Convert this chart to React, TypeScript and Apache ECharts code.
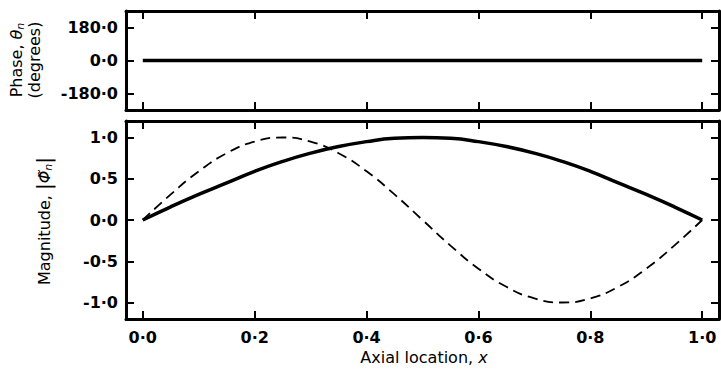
import React, { useEffect, useRef } from "react";
import * as echarts from "echarts";

const xPositions = [0, 0.05, 0.1, 0.15, 0.2, 0.25, 0.3, 0.35, 0.4, 0.45, 0.5, 0.55, 0.6, 0.65, 0.7, 0.75, 0.8, 0.85, 0.9, 0.95, 1.0];
const magnitudeSolid = [0, 0.16, 0.31, 0.45, 0.59, 0.71, 0.81, 0.89, 0.95, 0.99, 1.0, 0.99, 0.95, 0.89, 0.81, 0.71, 0.59, 0.45, 0.31, 0.16, 0];
const magnitudeDashed = [0, 0.31, 0.59, 0.81, 0.95, 1.0, 0.95, 0.81, 0.59, 0.31, 0, -0.31, -0.59, -0.81, -0.95, -1.0, -0.95, -0.81, -0.59, -0.31, 0];
const phaseX = [0, 1.0];
const phaseValues = [0, 0];
const xTicks = [0, 0.2, 0.4, 0.6, 0.8, 1.0];
const phaseTicks = [-180, 0, 180];
const magTicks = [-1, -0.5, 0, 0.5, 1];

const FONT = "DejaVu Sans";
const fmt = (v: number) => v.toFixed(1).replace(".", "·");

export default function App() {
  const ref = useRef<HTMLDivElement>(null);
  useEffect(() => {
    if (!ref.current) return;
    const chart = echarts.init(ref.current, null, { renderer: "svg" });
    const axisLine = { show: true, onZero: false, lineStyle: { color: "#000", width: 3 } };
    const mkX = (grid: number, pos: string, labels: boolean) => ({
      type: "value",
      gridIndex: grid,
      position: pos,
      min: -0.03,
      max: 1.03,
      axisLine,
      axisTick: { show: true, inside: true, length: 8, customValues: xTicks, lineStyle: { color: "#000", width: 2 } },
      axisLabel: labels
        ? { show: true, customValues: xTicks, formatter: fmt, fontFamily: FONT, fontWeight: "bold", fontSize: 16, color: "#000", margin: 10 }
        : { show: false },
      splitLine: { show: false },
    });
    const mkY = (grid: number, pos: string, labels: boolean, min: number, max: number, ticks: number[]) => ({
      type: "value",
      gridIndex: grid,
      position: pos,
      min,
      max,
      axisLine,
      axisTick: { show: true, inside: true, length: 8, customValues: ticks, lineStyle: { color: "#000", width: 2 } },
      axisLabel: labels
        ? { show: true, customValues: ticks, formatter: fmt, fontFamily: FONT, fontWeight: "bold", fontSize: 16, color: "#000", margin: 8 }
        : { show: false },
      splitLine: { show: false },
    });
    chart.setOption({
      animation: false,
      backgroundColor: "#fff",
      grid: [
        { left: 126, top: 11, width: 593, height: 99 },
        { left: 126, top: 121, width: 593, height: 198 },
      ],
      xAxis: [mkX(0, "bottom", false), mkX(0, "top", false), mkX(1, "bottom", true), mkX(1, "top", false)],
      yAxis: [
        mkY(0, "left", true, -270, 270, phaseTicks),
        mkY(0, "right", false, -270, 270, phaseTicks),
        mkY(1, "left", true, -1.2, 1.2, magTicks),
        mkY(1, "right", false, -1.2, 1.2, magTicks),
      ],
      series: [
        {
          type: "line",
          xAxisIndex: 0,
          yAxisIndex: 0,
          data: phaseX.map((x, i) => [x, phaseValues[i]]),
          showSymbol: false,
          lineStyle: { color: "#000", width: 3.5 },
        },
        {
          type: "line",
          xAxisIndex: 2,
          yAxisIndex: 2,
          data: xPositions.map((x, i) => [x, magnitudeSolid[i]]),
          smooth: true,
          showSymbol: false,
          lineStyle: { color: "#000", width: 3.5 },
        },
        {
          type: "line",
          xAxisIndex: 2,
          yAxisIndex: 2,
          data: xPositions.map((x, i) => [x, magnitudeDashed[i]]),
          smooth: true,
          showSymbol: false,
          lineStyle: { color: "#000", width: 1.8, type: [10, 6] },
        },
      ],
      graphic: [
        {
          type: "text",
          x: 16,
          y: 60,
          rotation: Math.PI / 2,
          style: {
            text: "{t|Phase, }{g|θ}{s|n}",
            align: "center",
            verticalAlign: "middle",
            fill: "#000",
            rich: {
              t: { fontFamily: FONT, fontSize: 16, fill: "#000" },
              g: { fontFamily: FONT, fontSize: 16, fontStyle: "italic", fill: "#000" },
              s: { fontFamily: FONT, fontSize: 11, fontStyle: "italic", fill: "#000", padding: [8, 0, 0, 0] },
            },
          },
        },
        {
          type: "text",
          x: 34,
          y: 60,
          rotation: Math.PI / 2,
          style: {
            text: "(degrees)",
            align: "center",
            verticalAlign: "middle",
            fill: "#000",
            fontFamily: FONT,
            fontSize: 16,
          },
        },
        {
          type: "text",
          x: 44,
          y: 221,
          rotation: Math.PI / 2,
          style: {
            text: "{t|Magnitude, }{b||}{g|Φ̃}{s|n}{b||}",
            align: "center",
            verticalAlign: "middle",
            fill: "#000",
            rich: {
              t: { fontFamily: FONT, fontSize: 16, fill: "#000" },
              b: { fontFamily: FONT, fontSize: 20, fill: "#000" },
              g: { fontFamily: FONT, fontSize: 16, fontStyle: "italic", fill: "#000" },
              s: { fontFamily: FONT, fontSize: 11, fontStyle: "italic", fill: "#000", padding: [8, 0, 0, 0] },
            },
          },
        },
        {
          type: "text",
          x: 424,
          y: 357,
          style: {
            text: "{t|Axial location, }{i|x}",
            align: "center",
            verticalAlign: "middle",
            fill: "#000",
            rich: {
              t: { fontFamily: FONT, fontSize: 16, fill: "#000" },
              i: { fontFamily: FONT, fontSize: 16, fontStyle: "italic", fill: "#000" },
            },
          },
        },
      ],
    });
    return () => chart.dispose();
  }, []);
  return (
    <div
      ref={ref}
      style={{ position: "fixed", left: 0, top: 0, width: 721, height: 373, background: "#fff" }}
    />
  );
}
